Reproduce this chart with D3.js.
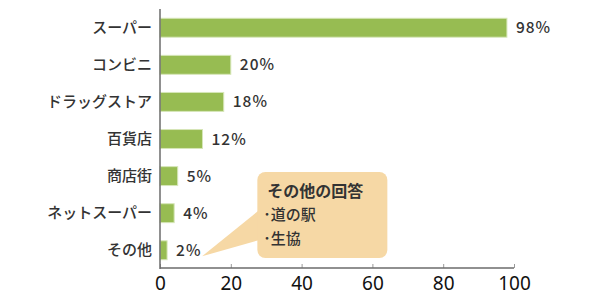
<!DOCTYPE html>
<html>
<head>
<meta charset="utf-8">
<style>
body { margin: 0; background: #fff; }
text { font-family: "Noto Sans CJK JP", sans-serif; }
</style>
</head>
<body>
<script src="https://cdn.jsdelivr.net/npm/d3@7"></script>
<script>
// 回答データ
var categories = ['スーパー', 'コンビニ', 'ドラッグストア', '百貨店', '商店街', 'ネットスーパー', 'その他'];
var values = [98, 20, 18, 12, 5, 4, 2];
var xTicks = [0, 20, 40, 60, 80, 100];
var calloutTitle = 'その他の回答';
var calloutItems = ['･道の駅', '･生協'];

var width = 600, height = 300;
var margin = { top: 9, right: 86, bottom: 31, left: 160 };

var svg = d3.select('body').append('svg')
  .attr('width', width)
  .attr('height', height);

var x = d3.scaleLinear()
  .domain([0, 100])
  .range([margin.left, width - margin.right]);

var y = d3.scaleBand()
  .domain(categories)
  .range([margin.top, height - margin.bottom])
  .paddingInner(0.49)
  .paddingOuter(0.25);

// 棒
svg.append('g').selectAll('rect')
  .data(values)
  .enter().append('rect')
  .attr('x', x(0))
  .attr('y', function(d, i) { return y(categories[i]); })
  .attr('width', function(d) { return x(d) - x(0); })
  .attr('height', y.bandwidth())
  .attr('fill', '#97bc52')
  .attr('stroke', '#d6e6b8')
  .attr('stroke-width', 1);

// 数値ラベル
svg.append('g').selectAll('text')
  .data(values)
  .enter().append('text')
  .attr('x', function(d) { return x(d) + 9; })
  .attr('y', function(d, i) { return y(categories[i]) + y.bandwidth() / 2; })
  .attr('dy', '0.36em')
  .attr('font-size', 15.5)
  .attr('font-weight', 500)
  .attr('letter-spacing', 1)
  .attr('fill', '#333')
  .text(function(d) { return d + '%'; });

// 項目ラベル
var yAxis = d3.axisLeft(y).tickSize(0).tickPadding(8);
var gy = svg.append('g')
  .attr('transform', 'translate(' + margin.left + ',0)')
  .call(yAxis);
gy.select('.domain').remove();
gy.selectAll('text')
  .attr('font-size', 15)
  .attr('font-weight', 500)
  .attr('fill', '#333')
  .style('font-family', '"Noto Sans CJK JP", sans-serif');

// x軸
var xAxis = d3.axisBottom(x).tickValues(xTicks).tickSize(-4).tickPadding(4);
var gx = svg.append('g')
  .attr('transform', 'translate(0,' + (height - margin.bottom - 1) + ')')
  .call(xAxis);
gx.select('.domain').remove();
gx.selectAll('.tick line').attr('stroke', '#999');
gx.selectAll('text')
  .attr('font-size', 19)
  .attr('fill', '#111')
  .attr('dy', '0.95em')
  .style('font-family', '"Noto Sans", sans-serif');

svg.append('line')
  .attr('x1', x(0)).attr('x2', x(100))
  .attr('y1', height - margin.bottom - 1).attr('y2', height - margin.bottom - 1)
  .attr('stroke', '#6b6b6b').attr('stroke-width', 1.5);
svg.append('line')
  .attr('x1', x(0)).attr('x2', x(0))
  .attr('y1', margin.top).attr('y2', height - margin.bottom)
  .attr('stroke', '#6b6b6b').attr('stroke-width', 1.5);

// 吹き出し
var last = categories[categories.length - 1];
var tipX = x(values[values.length - 1]) + 35;
var tipY = y(last) + y.bandwidth() / 2 + 6;
var bx = x(27.5), by = 172, bw = 130, bh = 86;
var g = svg.append('g');
g.append('path')
  .attr('d', 'M' + tipX + ',' + tipY + 'L' + (bx + 2) + ',' + 210 + 'L' + (bx + 2) + ',' + 240 + 'Z')
  .attr('fill', '#f6d8a5');
g.append('rect')
  .attr('x', bx).attr('y', by)
  .attr('width', bw).attr('height', bh)
  .attr('rx', 8).attr('ry', 8)
  .attr('fill', '#f6d8a5');
g.append('text')
  .attr('x', bx + 10).attr('y', by + 25)
  .attr('font-size', 16)
  .attr('font-weight', 700)
  .attr('fill', '#333')
  .text(calloutTitle);
g.selectAll('.item')
  .data(calloutItems)
  .enter().append('text')
  .attr('class', 'item')
  .attr('x', bx + 6)
  .attr('y', function(d, i) { return by + 48 + i * 24; })
  .attr('font-size', 15)
  .attr('font-weight', 500)
  .attr('fill', '#333')
  .text(function(d) { return d; });
</script>
</body>
</html>
